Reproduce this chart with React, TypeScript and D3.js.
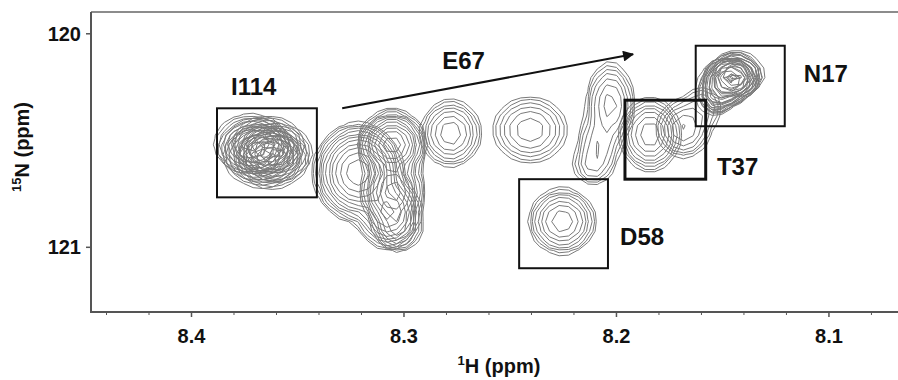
import { useMemo } from 'react';
import * as d3 from 'd3';

const W = 898;
const H = 380;
const FONT = '"Liberation Sans", Arial, Helvetica, sans-serif';

// spectral window (ppm); 1H runs right-to-left
const hDomain = [8.4473, 8.0675];
const nDomain = [119.898, 121.303];
const hMajor = [8.4, 8.3, 8.2, 8.1];
const hMinor = [8.44, 8.42, 8.38, 8.36, 8.34, 8.32, 8.28, 8.26, 8.24, 8.22, 8.18, 8.16, 8.14, 8.12, 8.08];
const nMajor = [120, 121];

// peak components: each row belongs to one overlaid spectrum / contour set
const compSet = [
  'I114-1', 'I114-2', 'I114-3', 'I114-4', 'I114-5', 'I114-6',
  'E67-1', 'E67-1',
  'E67-2', 'E67-2', 'E67-2',
  'E67-3',
  'E67-4',
  'E67-5', 'E67-5', 'E67-5',
  'D58',
  'T37-1',
  'T37-2', 'T37-2',
  'N17-1', 'N17-1', 'N17-2', 'N17-2', 'N17-3', 'N17-3', 'N17-4', 'N17-4',
];
const compH = [
  8.3695, 8.3640, 8.3670, 8.3600, 8.3720, 8.3620,
  8.3216, 8.3075,
  8.3056, 8.3052, 8.3028,
  8.2780,
  8.2407,
  8.2030, 8.2085, 8.2115,
  8.2256,
  8.1842,
  8.1685, 8.1595,
  8.1455, 8.1530, 8.1435, 8.1515, 8.1475, 8.1540, 8.1445, 8.1525,
];
const compN = [
  120.540, 120.520, 120.575, 120.555, 120.515, 120.590,
  120.649, 120.836,
  120.520, 120.740, 120.910,
  120.466,
  120.450,
  120.330, 120.520, 120.620,
  120.878,
  120.471,
  120.445, 120.345,
  120.205, 120.290, 120.190, 120.280, 120.220, 120.300, 120.200, 120.285,
];
const compWH = [
  0.0076, 0.0074, 0.0078, 0.0074, 0.0076, 0.0074,
  0.0068, 0.0058,
  0.0052, 0.0052, 0.0047,
  0.0060,
  0.0080,
  0.0048, 0.0048, 0.0045,
  0.0062,
  0.0056,
  0.0056, 0.0050,
  0.0056, 0.0055, 0.0056, 0.0055, 0.0056, 0.0055, 0.0056, 0.0055,
];
const compWN = [
  0.060, 0.058, 0.062, 0.058, 0.060, 0.058,
  0.075, 0.066,
  0.052, 0.066, 0.047,
  0.066,
  0.070,
  0.085, 0.070, 0.045,
  0.061,
  0.068,
  0.060, 0.055,
  0.046, 0.055, 0.046, 0.055, 0.046, 0.055, 0.046, 0.055,
];
const compHeight = [
  14, 13, 14, 13, 14, 13,
  120, 30,
  120, 50, 15,
  16,
  10.5,
  14, 7, 5,
  24,
  24,
  12, 4,
  13, 3, 13, 3, 13, 3, 13, 3,
];

// annotation boxes (ppm corners)
const boxNames = ['I114', 'D58', 'T37', 'N17'];
const boxH1 = [8.388, 8.2458, 8.196, 8.1627];
const boxH2 = [8.341, 8.204, 8.158, 8.1208];
const boxN1 = [120.349, 120.681, 120.311, 120.056];
const boxN2 = [120.766, 121.098, 120.681, 120.433];

// residue labels
const labelText = ['I114', 'E67', 'D58', 'T37', 'N17'];
const labelH = [8.3707, 8.282, 8.1983, 8.1527, 8.1118];
const labelN = [120.288, 120.166, 120.99, 120.663, 120.227];
const labelAnchor = ['middle', 'start', 'start', 'start', 'start'];

// E67 shift arrow
const arrowH = [8.3291, 8.1922];
const arrowN = [120.349, 120.096];

const levelBase = 1;
const levelFactor = 1.5;
const levelCount = 14;

export default function App() {
  const x = d3.scaleLinear().domain(hDomain).range([91, 898]);
  const y = d3.scaleLinear().domain(nDomain).range([12, 312]);

  const paths = useMemo(() => {
    const dH = 0.0045;
    const dN = 0.045;
    const h0 = 8.452;
    const n0 = 119.89;
    const nx = Math.ceil((h0 - 8.062) / dH) + 1;
    const ny = Math.ceil((121.31 - n0) / dN) + 1;
    const thresholds = d3.range(levelCount).map(k => levelBase * Math.pow(levelFactor, k));
    const proj = d3.geoTransform({
      point(px: number, py: number) {
        this.stream.point(x(h0 - (px - 0.5) * dH), y(n0 + (py - 0.5) * dN));
      },
    });
    const gp = d3.geoPath(proj);
    const sets = Array.from(new Set(compSet));
    const out: string[] = [];
    sets.forEach(s => {
      const idx = compSet.map((c, i) => (c === s ? i : -1)).filter(i => i >= 0);
      const vals = new Array(nx * ny).fill(0);
      for (let j = 0; j < ny; j++) {
        const n = n0 + j * dN;
        for (let i = 0; i < nx; i++) {
          const h = h0 - i * dH;
          let v = 0;
          idx.forEach(k => {
            const u = (h - compH[k]) / compWH[k];
            const w = (n - compN[k]) / compWN[k];
            v += compHeight[k] * Math.exp(-0.5 * (u * u + w * w));
          });
          vals[j * nx + i] = v;
        }
      }
      const cs = d3.contours().size([nx, ny]).thresholds(thresholds)(vals);
      cs.forEach(c => {
        if (c.coordinates.length) {
          const d = gp(c as any);
          if (d) out.push(d);
        }
      });
    });
    return out;
  }, []);

  const axisColor = '#555';

  return (
    <svg width={W} height={H} style={{ position: 'absolute', left: 0, top: 0, background: '#fff' }} fontFamily={FONT}>
      <defs>
        <marker id="arrowhead" viewBox="0 0 10 10" refX="9" refY="5" markerWidth="7" markerHeight="5.5" orient="auto">
          <path d="M0,0 L10,5 L0,10 z" fill="#111" />
        </marker>
      </defs>

      {/* contours */}
      <g fill="none" stroke="#7a7a7a" strokeWidth={1}>
        {paths.map((d, i) => <path key={i} d={d} />)}
      </g>

      {/* frame */}
      <line x1={x(hDomain[0])} x2={W} y1={y(nDomain[0])} y2={y(nDomain[0])} stroke="#666" strokeWidth={1.5} />
      <line x1={x(hDomain[0])} x2={x(hDomain[0])} y1={y(nDomain[0])} y2={y(nDomain[1])} stroke={axisColor} strokeWidth={2} />
      <line x1={x(hDomain[0]) - 1} x2={W} y1={y(nDomain[1])} y2={y(nDomain[1])} stroke={axisColor} strokeWidth={2} />

      {/* x ticks */}
      {hMinor.map(t => (
        <line key={'m' + t} x1={x(t)} x2={x(t)} y1={y(nDomain[1])} y2={y(nDomain[1]) + 3} stroke={axisColor} strokeWidth={1} />
      ))}
      {hMajor.map(t => (
        <g key={'M' + t}>
          <line x1={x(t)} x2={x(t)} y1={y(nDomain[1])} y2={y(nDomain[1]) + 5} stroke={axisColor} strokeWidth={1.5} />
          <text x={x(t)} y={y(nDomain[1]) + 31} textAnchor="middle" fontSize={20} fontWeight="bold" fill="#111">
            {t.toFixed(1)}
          </text>
        </g>
      ))}

      {/* y ticks */}
      {nMajor.map(t => (
        <g key={'y' + t}>
          <line x1={x(hDomain[0]) - 5} x2={x(hDomain[0])} y1={y(t)} y2={y(t)} stroke={axisColor} strokeWidth={1.5} />
          <text x={x(hDomain[0]) - 10} y={y(t) + 7} textAnchor="end" fontSize={20} fontWeight="bold" fill="#111">
            {t}
          </text>
        </g>
      ))}

      {/* axis titles */}
      <text x={499} y={373} textAnchor="middle" fontSize={20} fontWeight="bold" fill="#111">
        <tspan fontSize={13} dy={-8}>1</tspan>
        <tspan dy={8}>H (ppm)</tspan>
      </text>
      <text transform="translate(29,147) rotate(-90)" textAnchor="middle" fontSize={20} fontWeight="bold" fill="#111">
        <tspan fontSize={13} dy={-8}>15</tspan>
        <tspan dy={8}>N (ppm)</tspan>
      </text>

      {/* boxes */}
      {boxNames.map((b, i) => (
        <rect
          key={b}
          x={x(boxH1[i])}
          y={y(boxN1[i])}
          width={x(boxH2[i]) - x(boxH1[i])}
          height={y(boxN2[i]) - y(boxN1[i])}
          fill="none"
          stroke="#111"
          strokeWidth={b === 'T37' ? 3 : 2}
        />
      ))}

      {/* arrow */}
      <line
        x1={x(arrowH[0])}
        y1={y(arrowN[0])}
        x2={x(arrowH[1])}
        y2={y(arrowN[1])}
        stroke="#111"
        strokeWidth={2}
        markerEnd="url(#arrowhead)"
      />

      {/* labels */}
      {labelText.map((t, i) => (
        <text key={t} x={x(labelH[i])} y={y(labelN[i])} textAnchor={labelAnchor[i] as any} fontSize={24} fontWeight="bold" fill="#111">
          {t}
        </text>
      ))}
    </svg>
  );
}
